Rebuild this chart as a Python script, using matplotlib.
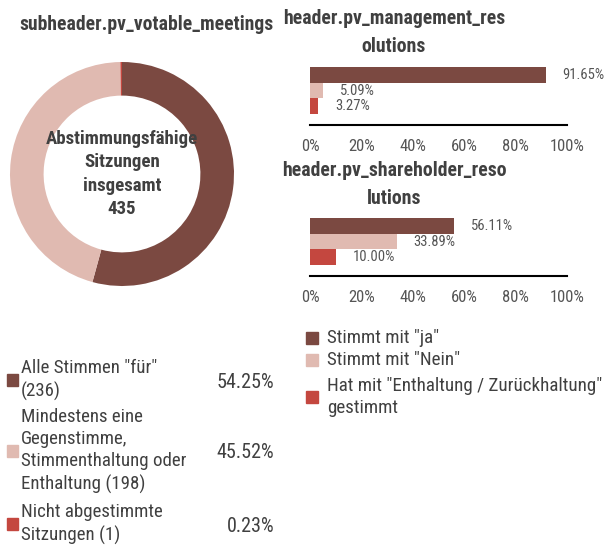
import matplotlib
matplotlib.use("Agg")
import matplotlib.pyplot as plt
from matplotlib import font_manager

# pick a condensed face if one is installed
names = {f.name for f in font_manager.fontManager.ttflist}
FONT = "Liberation Sans"
for cand in ["Liberation Sans Narrow", "Roboto Condensed", "Open Sans Condensed", "Noto Sans Condensed"]:
    if cand in names:
        FONT = cand
        break
plt.rcParams["font.family"] = [FONT, "DejaVu Sans"]

W, H = 612, 549

# donut data
donut_labels = ['Alle Stimmen "für"\n(236)',
                'Mindestens eine\nGegenstimme,\nStimmenthaltung oder\nEnthaltung (198)',
                'Nicht abgestimmte\nSitzungen (1)']
donut_values = [54.25, 45.52, 0.23]
donut_total = 435

# bar data
vote_labels = ['Stimmt mit "ja"', 'Stimmt mit "Nein"', 'Hat mit "Enthaltung / Zurückhaltung"\ngestimmt']
management = [91.65, 5.09, 3.27]
shareholder = [56.11, 33.89, 10.00]
ticks = [0, 20, 40, 60, 80, 100]

colors = ["#7b4941", "#e0bab1", "#c4473f"]
dark_text = "#404040"
grey_text = "#555555"


def ax_px(x0, y0, x1, y1):
    # y measured from the top of the picture
    return fig.add_axes([x0 / W, 1 - y1 / H, (x1 - x0) / W, (y1 - y0) / H])


def txt(x, y, s, **kw):
    fig.text(x / W, 1 - y / H, s, **kw)


fig = plt.figure(figsize=(W / 100, H / 100), dpi=100)

# donut
ax = ax_px(10, 62, 234, 286)
ax.pie(donut_values, colors=colors, startangle=90, counterclock=False,
       radius=1, wedgeprops=dict(width=0.3, edgecolor="none"))
ax.set_xlim(-1, 1)
ax.set_ylim(-1, 1)
ax.set_aspect("auto")
ax.axis("off")
ax.text(0, 0, "Abstimmungsfähige\nSitzungen\ninsgesamt\n%d" % donut_total,
        ha="center", va="center", fontsize=13.6, fontweight="bold",
        color=dark_text, linespacing=1.38)

txt(146, 25, "subheader.pv_votable_meetings", ha="center", va="center",
    fontsize=14.1, fontweight="bold", color=dark_text)

# bar panels
panels = [(management, "header.pv_management_res\nolutions", 125, 33),
          (shareholder, "header.pv_shareholder_reso\nlutions", 276, 185)]
for vals, title, base, ty in panels:
    ax = ax_px(310, base - 65, 567, base)
    pos = [2, 1, 0]
    ax.barh(pos, vals, height=1.0, color=colors)
    for p, v in zip(pos, vals):
        ax.annotate("%.2f%%" % v, (v, p), xytext=(12, 0), textcoords="offset points",
                    ha="left", va="center", fontsize=10.5, color=grey_text)
    ax.set_xlim(0, 100)
    ax.set_ylim(-1.2, 2.95)
    ax.set_xticks(ticks)
    ax.set_xticklabels(["%d%%" % t for t in ticks], fontsize=12, color=grey_text)
    ax.tick_params(axis="x", length=0, pad=10)
    ax.set_yticks([])
    for s in ["top", "left", "right"]:
        ax.spines[s].set_visible(False)
    ax.spines["bottom"].set_linewidth(1.5)
    ax.spines["bottom"].set_color("black")
    ax.patch.set_alpha(0)
    txt(394, ty, title, ha="center", va="center", fontsize=14.2,
        fontweight="bold", color=dark_text, linespacing=1.6)

# donut legend
leg_y = [380, 451, 524]
for lab, v, c, y in zip(donut_labels, donut_values, colors, leg_y):
    fig.patches.append(plt.Rectangle((7 / W, 1 - (y + 6) / H), 11 / W, 12 / H,
                                     transform=fig.transFigure, color=c))
    txt(21, y, lab, ha="left", va="center", fontsize=13.6, color=dark_text, linespacing=1.32)
    txt(274, y + 2, "%.2f%%" % v, ha="right", va="center", fontsize=14.5, color=dark_text)

# vote legend
vote_y = [338, 360, 397]
for lab, c, y in zip(vote_labels, colors, vote_y):
    fig.patches.append(plt.Rectangle((306 / W, 1 - (y + 6) / H), 12 / W, 12 / H,
                                     transform=fig.transFigure, color=c))
    txt(327, y, lab, ha="left", va="center", fontsize=13.7, color=dark_text, linespacing=1.32)

fig.savefig("out.png", dpi=100)
